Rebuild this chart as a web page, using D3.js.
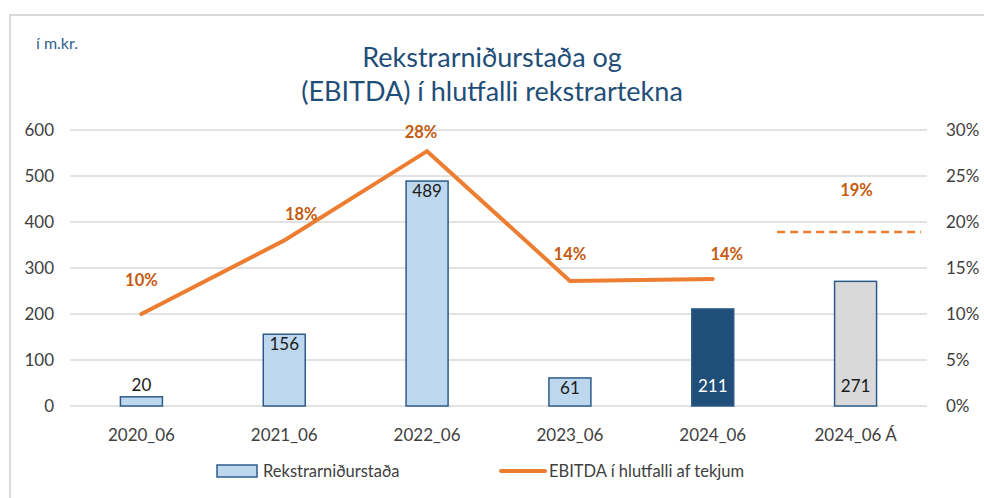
<!DOCTYPE html>
<html>
<head>
<meta charset="utf-8">
<script src="https://cdn.jsdelivr.net/npm/d3@7"></script>
<style>
  body { margin: 0; background: #fff; }
  svg text { font-family: Lato, "Open Sans", sans-serif; }
</style>
</head>
<body>
<div id="chart"></div>
<script>
// gögn
const categories = ["2020_06", "2021_06", "2022_06", "2023_06", "2024_06", "2024_06 Á"];
const rekstur = [20, 156, 489, 61, 211, 271];
const ebitda = [0.10, 0.18, 0.277, 0.136, 0.138];   // raun
const ebitdaAaetlun = 0.189;                        // áætlun 2024_06 Á
const ebitdaLabels = ["10%", "18%", "28%", "14%", "14%", "19%"];
const leftTicks = [0, 100, 200, 300, 400, 500, 600];
const rightTicks = [0, 0.05, 0.10, 0.15, 0.20, 0.25, 0.30];

const width = 984, height = 498;
const plot = { left: 70, right: 927, top: 130, bottom: 406 };

const svg = d3.select('#chart')
    .append('svg')
    .attr('width', width)
    .attr('height', height);

// rammi
svg.append('path')
    .attr('d', `M10,${height} L10,15 L${width},15`)
    .attr('fill', 'none')
    .attr('stroke', '#d9d9d9')
    .attr('stroke-width', 2);

const x = d3.scaleBand().domain(categories).range([plot.left, plot.right]);
const yL = d3.scaleLinear().domain([0, 600]).range([plot.bottom, plot.top]);
const yR = d3.scaleLinear().domain([0, 0.30]).range([plot.bottom, plot.top]);
const cx = d => x(d) + x.bandwidth() / 2;

// titill
svg.append('text').attr('x', 36).attr('y', 49)
    .attr('font-size', 16).attr('fill', '#2f5f8f').text('í m.kr.');
svg.append('text').attr('x', 492).attr('y', 67).attr('text-anchor', 'middle')
    .attr('font-size', 27).attr('fill', '#1f4e79').text('Rekstrarniðurstaða og');
svg.append('text').attr('x', 492).attr('y', 101).attr('text-anchor', 'middle')
    .attr('font-size', 27).attr('fill', '#1f4e79').text('(EBITDA) í hlutfalli rekstrartekna');

// gridlínur
svg.append('g').selectAll('line').data(leftTicks.slice(1)).enter().append('line')
    .attr('x1', plot.left).attr('x2', plot.right)
    .attr('y1', d => yL(d)).attr('y2', d => yL(d))
    .attr('stroke', '#d9d9d9').attr('stroke-width', 1.5);

// ásar
const axL = svg.append('g').attr('transform', `translate(${plot.left - 16},0)`)
    .call(d3.axisLeft(yL).tickValues(leftTicks).tickSize(0).tickPadding(0));
const axR = svg.append('g').attr('transform', `translate(${plot.right + 19},0)`)
    .call(d3.axisRight(yR).tickValues(rightTicks).tickSize(0).tickPadding(0).tickFormat(d3.format('.0%')));
const axX = svg.append('g').attr('transform', `translate(0,${plot.bottom})`)
    .call(d3.axisBottom(x).tickSize(0).tickPadding(23));
[axL, axR, axX].forEach(a => {
    a.select('.domain').remove();
    a.selectAll('text').attr('font-size', 17).attr('fill', '#404040')
        .style('font-family', 'Lato, "Open Sans", sans-serif');
});
svg.append('line')
    .attr('x1', plot.left).attr('x2', plot.right)
    .attr('y1', plot.bottom).attr('y2', plot.bottom)
    .attr('stroke', '#d9d9d9').attr('stroke-width', 1.5);

// súlur
const barW = 42;
const fills = ['#bdd7ee', '#bdd7ee', '#bdd7ee', '#bdd7ee', '#1f4e79', '#d9d9d9'];
svg.append('g').selectAll('rect').data(rekstur).enter().append('rect')
    .attr('x', (d, i) => cx(categories[i]) - barW / 2)
    .attr('y', d => yL(d))
    .attr('width', barW)
    .attr('height', d => plot.bottom - yL(d))
    .attr('fill', (d, i) => fills[i])
    .attr('stroke', '#2e5c8a')
    .attr('stroke-width', 1.5);

// merkingar á súlum: 0 = ofan, 1 = inni efst, 2 = inni neðst
const barLabelPos = [0, 1, 1, 1, 2, 2];
svg.append('g').selectAll('text').data(rekstur).enter().append('text')
    .attr('x', (d, i) => cx(categories[i]))
    .attr('y', (d, i) => barLabelPos[i] === 0 ? yL(d) - 12
        : barLabelPos[i] === 1 ? yL(d) + 10 : plot.bottom - 20)
    .attr('dy', '0.35em')
    .attr('text-anchor', 'middle')
    .attr('font-size', 17)
    .attr('fill', (d, i) => i === 4 ? '#fff' : '#1a1a1a')
    .text(d => d);

// EBITDA lína
const line = d3.line()
    .x((d, i) => cx(categories[i]))
    .y(d => yR(d));
svg.append('path')
    .datum(ebitda)
    .attr('d', line)
    .attr('fill', 'none')
    .attr('stroke', '#ed7d31')
    .attr('stroke-width', 4)
    .attr('stroke-linecap', 'round');

const last = categories[categories.length - 1];
svg.append('line')
    .attr('x1', x(last) - 7).attr('x2', x(last) + x.bandwidth() - 6)
    .attr('y1', yR(ebitdaAaetlun)).attr('y2', yR(ebitdaAaetlun))
    .attr('stroke', '#ed7d31')
    .attr('stroke-width', 2.5)
    .attr('stroke-dasharray', '8,5');

// prósentumerkingar
const pctValues = ebitda.concat([ebitdaAaetlun]);
const labelDx = [0, 17, -6, 0, 14, 1];
const labelDy = [-34, -26, -19, -27, -25, -42];
svg.append('g').selectAll('text').data(pctValues).enter().append('text')
    .attr('x', (d, i) => cx(categories[i]) + labelDx[i])
    .attr('y', (d, i) => yR(d) + labelDy[i])
    .attr('dy', '0.35em')
    .attr('text-anchor', 'middle')
    .attr('font-size', 16.5)
    .attr('font-weight', 'bold')
    .attr('fill', '#c55a11')
    .text((d, i) => ebitdaLabels[i]);

// skýringar
const legend = svg.append('g');
legend.append('rect')
    .attr('x', 217).attr('y', 465).attr('width', 40).attr('height', 12)
    .attr('fill', '#bdd7ee').attr('stroke', '#2e5c8a').attr('stroke-width', 1.5);
legend.append('text').attr('x', 263).attr('y', 477)
    .attr('font-size', 16.5).attr('fill', '#404040').text('Rekstrarniðurstaða');
legend.append('line')
    .attr('x1', 501).attr('x2', 545).attr('y1', 471).attr('y2', 471)
    .attr('stroke', '#ed7d31').attr('stroke-width', 4).attr('stroke-linecap', 'round');
legend.append('text').attr('x', 549).attr('y', 477)
    .attr('font-size', 16.5).attr('fill', '#404040').text('EBITDA í hlutfalli af tekjum');
</script>
</body>
</html>
